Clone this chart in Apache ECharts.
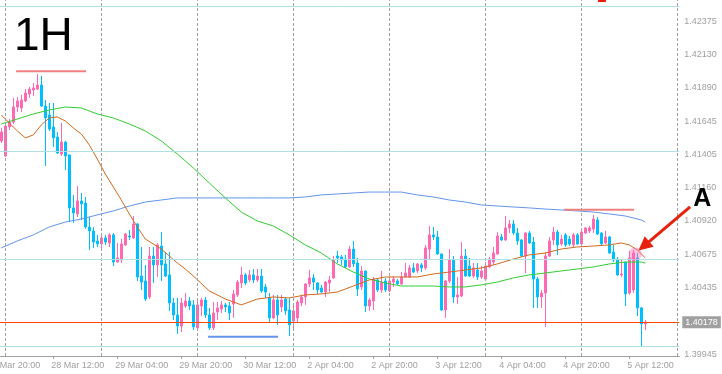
<!DOCTYPE html>
<html><head><meta charset="utf-8">
<script src="https://cdn.jsdelivr.net/npm/echarts@6/dist/echarts.min.js"></script>
<style>html,body{margin:0;padding:0;background:#fff}#c{width:722px;height:374px}</style>
</head><body><div id="c"></div>
<script>
// ---- time categories (hourly bars, weekend skipped) ----
const dayBlocks = [['27 Mar',20,23],['28 Mar',0,23],['29 Mar',0,23],['30 Mar',0,23],['2 Apr',0,23],['3 Apr',0,23],['4 Apr',0,23],['5 Apr',0,23],['6 Apr',0,0]];
const categories = [];
dayBlocks.forEach(([d,a,b])=>{for(let h=a;h<=b;h++) categories.push(d+' '+String(h).padStart(2,'0')+':00');});
const labelEvery = 16;
const firstBar = 3; // first visible candle = 27 Mar 23:00

// ---- OHLC (bar 27 Mar 23:00 .. 5 Apr 16:00) ----
const open = [
1.41502,1.41392,1.41604,1.41640,1.41750,1.41743,1.41794,1.41845,1.41874,1.41881,
1.41911,1.41757,1.41692,1.41604,1.41531,1.41407,1.41494,1.41400,1.41013,1.40969,
1.41064,1.41049,1.40874,1.40845,1.40772,1.40750,1.40794,1.40757,1.40816,1.40618,
1.40633,1.40743,1.40808,1.40794,1.40896,1.40516,1.40480,1.40363,1.40662,1.40597,
1.40735,1.40604,1.40524,1.40319,1.40232,1.40151,1.40297,1.40334,1.40305,1.40137,
1.40297,1.40341,1.40232,1.40137,1.40253,1.40275,1.40305,1.40297,1.40312,1.40378,
1.40465,1.40524,1.40487,1.40524,1.40487,1.40516,1.40436,1.40356,1.40210,1.40341,
1.40290,1.40348,1.40268,1.40188,1.40210,1.40319,1.40363,1.40458,1.40502,1.40465,
1.40429,1.40399,1.40465,1.40502,1.40662,1.40655,1.40640,1.40582,1.40713,1.40611,
1.40436,1.40553,1.40297,1.40334,1.40487,1.40414,1.40480,1.40407,1.40472,1.40480,
1.40458,1.40509,1.40509,1.40575,1.40553,1.40597,1.40575,1.40713,1.40816,1.40801,
1.40677,1.40268,1.40480,1.40633,1.40363,1.40370,1.40662,1.40589,1.40516,1.40560,
1.40509,1.40494,1.40582,1.40618,1.40677,1.40801,1.40779,1.40867,1.40896,1.40830,
1.40779,1.40662,1.40830,1.40764,1.40494,1.40363,1.40392,1.40662,1.40779,1.40837,
1.40750,1.40816,1.40786,1.40743,1.40816,1.40750,1.40830,1.40845,1.40859,1.40925,
1.40830,1.40757,1.40801,1.40691,1.40633,1.40524,1.40618,1.40392,1.40414,1.40648,
1.40283,1.40166];
const close = [
1.41567,1.41611,1.41640,1.41750,1.41794,1.41801,1.41852,1.41881,1.41889,1.41911,
1.41757,1.41670,1.41589,1.41524,1.41414,1.41494,1.41392,1.41013,1.40976,1.41064,
1.41042,1.40874,1.40845,1.40764,1.40750,1.40794,1.40764,1.40816,1.40618,1.40648,
1.40750,1.40823,1.40801,1.40896,1.40509,1.40472,1.40348,1.40662,1.40597,1.40743,
1.40597,1.40516,1.40319,1.40232,1.40151,1.40319,1.40334,1.40297,1.40144,1.40305,
1.40341,1.40232,1.40137,1.40246,1.40283,1.40305,1.40290,1.40246,1.40385,1.40472,
1.40524,1.40465,1.40524,1.40487,1.40516,1.40407,1.40399,1.40210,1.40341,1.40232,
1.40341,1.40261,1.40159,1.40261,1.40326,1.40363,1.40458,1.40502,1.40472,1.40414,
1.40399,1.40472,1.40487,1.40633,1.40648,1.40633,1.40582,1.40713,1.40604,1.40421,
1.40553,1.40297,1.40341,1.40494,1.40414,1.40472,1.40414,1.40480,1.40494,1.40458,
1.40509,1.40538,1.40575,1.40545,1.40604,1.40575,1.40721,1.40816,1.40801,1.40677,
1.40268,1.40480,1.40633,1.40363,1.40378,1.40662,1.40516,1.40516,1.40575,1.40509,
1.40553,1.40589,1.40640,1.40684,1.40808,1.40779,1.40867,1.40896,1.40830,1.40772,
1.40662,1.40830,1.40757,1.40494,1.40363,1.40392,1.40662,1.40772,1.40837,1.40743,
1.40786,1.40743,1.40750,1.40816,1.40750,1.40837,1.40867,1.40867,1.40932,1.40823,
1.40750,1.40801,1.40684,1.40633,1.40524,1.40531,1.40385,1.40648,1.40684,1.40283,
1.40166,1.40180];
const low = [
1.41487,1.41385,1.41582,1.41626,1.41713,1.41713,1.41786,1.41816,1.41830,1.41874,
1.41750,1.41319,1.41575,1.41458,1.41407,1.41392,1.41290,1.40910,1.40903,1.40947,
1.40925,1.40859,1.40706,1.40721,1.40728,1.40706,1.40743,1.40728,1.40589,1.40611,
1.40611,1.40735,1.40779,1.40786,1.40480,1.40414,1.40334,1.40348,1.40465,1.40509,
1.40480,1.40509,1.40261,1.40195,1.40093,1.40107,1.40283,1.40268,1.40122,1.40122,
1.40224,1.40210,1.40122,1.40122,1.40195,1.40246,1.40253,1.40195,1.40210,1.40363,
1.40429,1.40451,1.40472,1.40465,1.40472,1.40392,1.40356,1.40173,1.40202,1.40159,
1.40253,1.40232,1.40078,1.40122,1.40180,1.40297,1.40305,1.40436,1.40414,1.40385,
1.40392,1.40363,1.40399,1.40494,1.40611,1.40597,1.40575,1.40575,1.40582,1.40370,
1.40414,1.40253,1.40261,1.40268,1.40399,1.40392,1.40399,1.40399,1.40436,1.40451,
1.40451,1.40509,1.40502,1.40538,1.40538,1.40545,1.40560,1.40633,1.40779,1.40670,
1.40261,1.40210,1.40465,1.40319,1.40312,1.40363,1.40509,1.40509,1.40502,1.40487,
1.40494,1.40487,1.40575,1.40597,1.40670,1.40772,1.40772,1.40830,1.40816,1.40743,
1.40655,1.40538,1.40750,1.40283,1.40283,1.40283,1.40144,1.40655,1.40743,1.40670,
1.40735,1.40728,1.40735,1.40728,1.40743,1.40743,1.40823,1.40830,1.40830,1.40816,
1.40743,1.40750,1.40677,1.40618,1.40516,1.40509,1.40297,1.40378,1.40392,1.40224,
1.39998,1.40122];
const high = [
1.41597,1.41626,1.41662,1.41816,1.41823,1.41838,1.41881,1.41896,1.41925,1.41991,
1.41976,1.41801,1.41779,1.41779,1.41567,1.41633,1.41502,1.41400,1.41108,1.41173,
1.41122,1.41093,1.40947,1.40874,1.40816,1.40816,1.40816,1.40830,1.40830,1.40757,
1.40786,1.40830,1.40852,1.40954,1.40903,1.40728,1.40597,1.40728,1.40728,1.40757,
1.40837,1.40691,1.40691,1.40356,1.40356,1.40356,1.40392,1.40363,1.40341,1.40341,
1.40356,1.40363,1.40283,1.40326,1.40326,1.40334,1.40319,1.40326,1.40414,1.40487,
1.40582,1.40538,1.40560,1.40567,1.40567,1.40567,1.40458,1.40392,1.40378,1.40378,
1.40378,1.40363,1.40356,1.40297,1.40341,1.40378,1.40465,1.40560,1.40531,1.40472,
1.40451,1.40480,1.40516,1.40662,1.40699,1.40670,1.40670,1.40735,1.40772,1.40648,
1.40589,1.40553,1.40356,1.40509,1.40502,1.40553,1.40502,1.40509,1.40516,1.40494,
1.40545,1.40611,1.40597,1.40611,1.40611,1.40611,1.40743,1.40881,1.40874,1.40845,
1.40677,1.40487,1.40713,1.40662,1.40509,1.40764,1.40713,1.40648,1.40611,1.40611,
1.40589,1.40618,1.40655,1.40728,1.40837,1.40823,1.40954,1.40925,1.40925,1.40867,
1.40786,1.40837,1.40845,1.40801,1.40509,1.40414,1.40691,1.40801,1.40874,1.40852,
1.40816,1.40830,1.40808,1.40830,1.40830,1.40852,1.40874,1.40881,1.40962,1.40947,
1.40837,1.40845,1.40808,1.40743,1.40655,1.40633,1.40618,1.40699,1.40706,1.40684,
1.40290,1.40195];

// ---- moving averages: [bar index, price] ----
const maFast = [[3,1.41692],[5,1.41633],[7,1.41575],[9,1.41524],[11,1.41546],[13,1.41619],[15,1.41670],[17,1.41677],[19,1.41648],[21,1.41597],[23,1.41553],[25,1.41473],[27,1.41370],[29,1.41261],[31,1.41166],[33,1.41071],[35,1.40969],[37,1.40874],[39,1.40786],[41,1.40750],[43,1.40713],[45,1.40662],[47,1.40611],[49,1.40567],[51,1.40516],[55,1.40407],[59,1.40348],[63,1.40305],[67,1.40348],[71,1.40363],[75,1.40356],[79,1.40378],[83,1.40385],[87,1.40399],[91,1.40443],[95,1.40487],[99,1.40509],[103,1.40509],[107,1.40509],[111,1.40531],[115,1.40545],[119,1.40560],[123,1.40575],[127,1.40604],[131,1.40640],[135,1.40670],[139,1.40684],[143,1.40713],[147,1.40728],[151,1.40735],[155,1.40743],[158,1.40757],[160,1.40743],[162,1.40706],[164,1.40648]];
const maMid = [[3,1.41626],[7,1.41662],[11,1.41699],[15,1.41728],[19,1.41750],[23,1.41743],[27,1.41699],[31,1.41670],[35,1.41626],[39,1.41575],[43,1.41502],[47,1.41407],[51,1.41305],[55,1.41195],[59,1.41086],[63,1.40983],[67,1.40918],[71,1.40881],[75,1.40816],[79,1.40743],[83,1.40684],[87,1.40604],[91,1.40545],[95,1.40494],[99,1.40465],[103,1.40443],[107,1.40443],[111,1.40443],[115,1.40436],[119,1.40436],[123,1.40451],[127,1.40472],[131,1.40502],[135,1.40524],[139,1.40538],[143,1.40553],[147,1.40567],[151,1.40582],[155,1.40604],[159,1.40618],[163,1.40618],[164,1.40611]];
const maSlow = [[3,1.40721],[7,1.40772],[11,1.40816],[15,1.40874],[19,1.40910],[23,1.40932],[27,1.40962],[31,1.40991],[35,1.41027],[39,1.41056],[43,1.41071],[47,1.41086],[51,1.41086],[55,1.41086],[59,1.41086],[63,1.41086],[67,1.41086],[71,1.41086],[75,1.41086],[79,1.41093],[83,1.41108],[87,1.41115],[91,1.41122],[95,1.41129],[99,1.41129],[103,1.41129],[107,1.41108],[111,1.41093],[115,1.41071],[119,1.41056],[123,1.41035],[127,1.41027],[131,1.41020],[135,1.41013],[139,1.41005],[143,1.40998],[147,1.40991],[151,1.40983],[155,1.40969],[159,1.40954],[163,1.40925],[164,1.40910]];

// ---- drawn objects ----
const hLevels = [1.42487, 1.41427, 1.40638, 1.40005];
const lastPrice = 1.40178;
const pinkTop = [[6.7,1.42011],[24.2,1.42011]];
const pinkRight = [[143.7,1.41000],[161.2,1.41000]];
const blueLow = [[54.7,1.40073],[72.2,1.40073]];
const arrowTail = [175.2, 1.41020];
const arrowTip = [162.3, 1.40702];
const circleAt = [161.5, 1.40677];
const letterAt = [176.0, 1.41077];
const yTicks = [1.39945,1.40435,1.40675,1.40920,1.41160,1.41405,1.41645,1.41890,1.42130,1.42375];
const yMin = 1.39932, yMax = 1.42531;

const N = categories.length;
const candles = categories.map((c,i)=>{const k=i-firstBar; if(k<0||k>=open.length) return '-'; return [open[k],close[k],low[k],high[k]];});
const sepIdx = []; categories.forEach((c,i)=>{ if(c.endsWith(' 00:00')) sepIdx.push(i); });

const PINK='#ff69b4', BLUE='#00bfff', AX='#a0a0a0';
const chart = echarts.init(document.getElementById('c'), null, {renderer:'canvas'});
const lab = i => i % labelEvery === 0;
chart.setOption({
  animation:false,
  backgroundColor:'#ffffff',
  grid:{left:-12.7, right:42.7, top:0, bottom:18, containLabel:false, outerBoundsMode:'none'},
  xAxis:[
    {type:'category', data:categories, boundaryGap:true,
     axisLine:{show:true, lineStyle:{color:AX, width:1}},
     axisTick:{show:true, interval:lab, alignWithLabel:true, length:3, lineStyle:{color:AX}},
     axisLabel:{interval:lab, align:'left', color:AX, fontSize:9, fontFamily:'Liberation Sans', margin:5, padding:[0,0,0,-2], hideOverlap:false},
     splitLine:{show:false}},
    {type:'value', min:-0.5, max:N-0.5, show:false}
  ],
  yAxis:{type:'value', position:'right', min:yMin, max:yMax, scale:true,
    axisLine:{show:true, lineStyle:{color:AX}},
    axisTick:{show:true, length:3, customValues:yTicks, lineStyle:{color:AX}},
    axisLabel:{customValues:yTicks, formatter:v=>v.toFixed(5), color:AX, fontSize:9, fontFamily:'Liberation Sans', margin:5},
    splitLine:{show:false}},
  series:[
    {type:'candlestick', xAxisIndex:0, data:candles, barWidth:2,
     itemStyle:{color:PINK, color0:BLUE, borderColor:PINK, borderColor0:BLUE, borderWidth:1}, z:2},
    {type:'line', xAxisIndex:1, data:maSlow, showSymbol:false, lineStyle:{color:'#6495ed', width:1}, z:3, silent:true},
    {type:'line', xAxisIndex:1, data:maMid, showSymbol:false, lineStyle:{color:'#32cd32', width:1}, z:3, silent:true},
    {type:'line', xAxisIndex:1, data:maFast, showSymbol:false, lineStyle:{color:'#d2691e', width:1}, z:3, silent:true,
     markLine:{silent:true, symbol:['none','none'], animation:false, precision:5,
       data:[
         ...sepIdx.map(i=>({xAxis:i, lineStyle:{color:AX, type:[3,2], width:1}, label:{show:false}})),
         ...hLevels.map(v=>({yAxis:v, lineStyle:{color:'#aee0e4', type:'solid', width:1}, label:{show:false}})),
         {yAxis:lastPrice, lineStyle:{color:'#ff4500', type:'solid', width:1},
          label:{show:true, position:'end', formatter:lastPrice.toFixed(5), backgroundColor:'#a0a0a0', color:'#ffffff', fontSize:9, fontFamily:'Liberation Sans', padding:[2,3,1,3], distance:3}}
       ]}},
    {type:'line', xAxisIndex:1, data:pinkTop, showSymbol:false, lineStyle:{color:'#f08080', width:2}, z:4, silent:true},
    {type:'line', xAxisIndex:1, data:pinkRight, showSymbol:false, lineStyle:{color:'#f08080', width:2}, z:4, silent:true},
    {type:'line', xAxisIndex:1, data:blueLow, showSymbol:false, lineStyle:{color:'#6495ed', width:2}, z:4, silent:true}
  ]
});

function px(p){ return chart.convertToPixel({xAxisIndex:1, yAxisIndex:0}, p); }
const t = px(arrowTail), h = px(arrowTip), c = px(circleAt), a = px(letterAt);
const dx = h[0]-t[0], dy = h[1]-t[1], L = Math.hypot(dx,dy), ux = dx/L, uy = dy/L;
const headLen = 14, headW = 7;
const bx = h[0]-ux*headLen, by = h[1]-uy*headLen;
chart.setOption({graphic:[
  {type:'circle', shape:{cx:c[0], cy:c[1], r:6.5}, style:{fill:'rgba(255,105,180,0.42)'}, z:20, silent:true},
  {type:'line', shape:{x1:t[0], y1:t[1], x2:bx+ux*2, y2:by+uy*2}, style:{stroke:'#e8200e', lineWidth:3}, z:21, silent:true},
  {type:'polygon', shape:{points:[[h[0],h[1]],[bx-uy*headW, by+ux*headW],[bx+uy*headW, by-ux*headW]]}, style:{fill:'#e8200e'}, z:21, silent:true},
  {type:'text', style:{text:'A', x:a[0], y:a[1], font:'bold 25px "Liberation Sans"', fill:'#000', textAlign:'left', textVerticalAlign:'middle', align:'left', verticalAlign:'middle'}, z:22, silent:true},
  {type:'text', style:{text:'1H', x:14, y:37, font:'46px "Liberation Sans"', fill:'#000', textAlign:'left', textVerticalAlign:'middle', align:'left', verticalAlign:'middle'}, z:22, silent:true},
  {type:'line', shape:{x1:598, y1:1, x2:606, y2:1}, style:{stroke:'#e8200e', lineWidth:2}, z:22, silent:true}
]});
</script></body></html>
